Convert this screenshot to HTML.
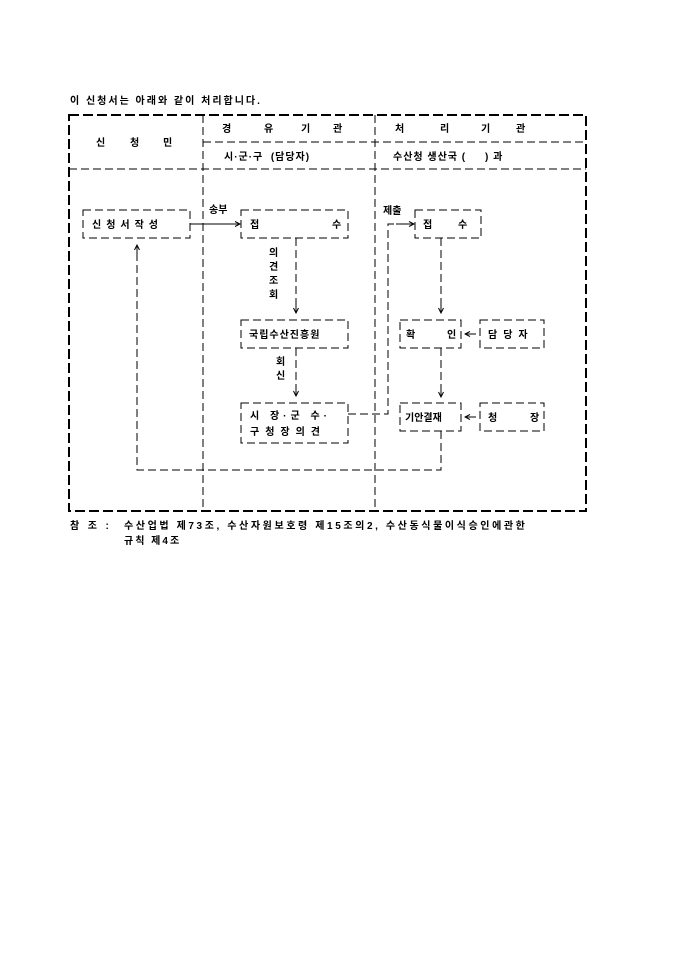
<!DOCTYPE html>
<html><head><meta charset="utf-8"><style>
body{margin:0;background:#fff;width:680px;height:962px;overflow:hidden}
svg text{font-family:"Liberation Sans","Noto Sans CJK KR","NanumGothic",sans-serif;font-size:10px;font-weight:bold;fill:#000;white-space:pre}
</style></head><body>
<svg width="680" height="962" xmlns="http://www.w3.org/2000/svg" xml:space="preserve">
<defs><marker id="a" markerWidth="8" markerHeight="8" refX="7" refY="4" orient="auto" markerUnits="userSpaceOnUse"><path d="M2,1.5 L7,4 L2,6.5" fill="none" stroke="#000" stroke-width="1"/></marker></defs>
<text x="70" y="104" letter-spacing="2">이 신청서는 아래와 같이 처리합니다.</text>
<g fill="none" stroke="#000">
<rect x="69" y="115" width="517" height="396" stroke-width="2" stroke-dasharray="10,4"/>
<g stroke-width="1" stroke-dasharray="8,4">
<line x1="203" y1="115" x2="203" y2="511"/>
<line x1="375" y1="115" x2="375" y2="511"/>
<line x1="203" y1="142" x2="586" y2="142"/>
<line x1="69" y1="169" x2="586" y2="169"/>
<rect x="83" y="210" width="107" height="28"/>
<rect x="241" y="210" width="107" height="28"/>
<rect x="415" y="210" width="66" height="28"/>
<rect x="241" y="320" width="107" height="28"/>
<rect x="400" y="320" width="61" height="28"/>
<rect x="480" y="320" width="64" height="28"/>
<rect x="241" y="403" width="107" height="40"/>
<rect x="400" y="403" width="61" height="28"/>
<rect x="480" y="403" width="64" height="28"/>
<line x1="296" y1="238" x2="296" y2="305"/>
<line x1="296" y1="348" x2="296" y2="388"/>
<polyline points="348,414 388,414 388,224 400,224"/>
<line x1="441" y1="238" x2="441" y2="305"/>
<line x1="441" y1="348" x2="441" y2="390"/>
<polyline points="441,431 441,470 137,470 137,255"/>
</g>
<g stroke-width="1">
<line x1="190" y1="224" x2="240" y2="224" marker-end="url(#a)"/>
<line x1="396" y1="224" x2="414" y2="224" marker-end="url(#a)"/>
<line x1="296" y1="300" x2="296" y2="313" marker-end="url(#a)"/>
<line x1="296" y1="385" x2="296" y2="396" marker-end="url(#a)"/>
<line x1="441" y1="300" x2="441" y2="313" marker-end="url(#a)"/>
<line x1="441" y1="386" x2="441" y2="397" marker-end="url(#a)"/>
<line x1="137" y1="256" x2="137" y2="245" marker-end="url(#a)"/>
<line x1="476" y1="334" x2="465" y2="334" marker-end="url(#a)"/>
<line x1="476" y1="417" x2="465" y2="417" marker-end="url(#a)"/>
</g>
</g>
<text x="96" y="146">신</text><text x="130" y="146">청</text><text x="163" y="146">민</text>
<text x="222" y="132">경</text><text x="264" y="132">유</text><text x="301" y="132">기</text><text x="333" y="132">관</text>
<text x="224" y="160" letter-spacing="1">시·군·구  (담당자)</text>
<text x="395" y="132">처</text><text x="440" y="132">리</text><text x="481" y="132">기</text><text x="516" y="132">관</text>
<text x="393" y="160" letter-spacing="1">수산청 생산국 (     ) 과</text>
<text x="92" y="228" letter-spacing="5">신청서작성</text>
<text x="250" y="228">접</text><text x="332" y="228">수</text>
<text x="423" y="228">접</text><text x="458" y="228">수</text>
<text x="209" y="213">송부</text>
<text x="383" y="214">제출</text>
<text x="269" y="256">의</text><text x="269" y="270">견</text><text x="269" y="284">조</text><text x="269" y="298">회</text>
<text x="249" y="338" letter-spacing="1">국립수산진흥원</text>
<text x="406" y="338">확</text><text x="447" y="338">인</text>
<text x="488" y="338" letter-spacing="6">담당자</text>
<text x="276" y="365">회</text><text x="276" y="379">신</text>
<text x="250" y="419" letter-spacing="4">시 장·군 수·</text>
<text x="250" y="435" letter-spacing="6">구청장의견</text>
<text x="405" y="421">기안결재</text>
<text x="488" y="421">청</text><text x="530" y="421">장</text>
<text x="70" y="529" letter-spacing="1">참  조  :</text>
<text x="124" y="529" letter-spacing="2.6">수산업법 제73조, 수산자원보호령 제15조의2, 수산동식물이식승인에관한</text>
<text x="124" y="544" letter-spacing="2">규칙 제4조</text>
</svg>
</body></html>
